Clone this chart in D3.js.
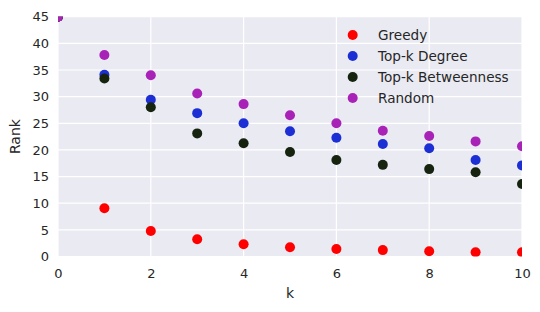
<!DOCTYPE html>
<html><head><meta charset="utf-8">
<script src="https://cdn.jsdelivr.net/npm/d3@7"></script>
<style>body{margin:0;background:#fff;}text{font-family:"DejaVu Sans",sans-serif;}</style>
</head><body><svg id="c" width="540" height="312"></svg>
<script>
const ks = [0,1,2,3,4,5,6,7,8,9,10];
const greedy = [45,9.06,4.8,3.25,2.3,1.75,1.4,1.2,1.0,0.8,0.8];
const topDegree = [45,34.1,29.4,26.9,25.0,23.5,22.3,21.1,20.3,18.1,17.1];
const topBetweenness = [45,33.4,28.0,23.1,21.25,19.6,18.1,17.2,16.4,15.8,13.6];
const random = [45,37.8,34.0,30.6,28.6,26.5,25.0,23.6,22.6,21.6,20.7];
const seriesNames = ["Greedy","Top-k Degree","Top-k Betweenness","Random"];
const seriesColors = ["#ff0000","#1c2fd4","#16240f","#a822b8"];
const xTicks = [0,2,4,6,8,10];
const yTicks = [0,5,10,15,20,25,30,35,40,45];

const series = [greedy, topDegree, topBetweenness, random];
const svg = d3.select("#c");
const L=58, R=522, T=16.7, B=256.5;
const x = d3.scaleLinear().domain([0,10]).range([L,R]);
const y = d3.scaleLinear().domain([0,45]).range([B,T]);

svg.append("rect").attr("x",L).attr("y",T).attr("width",R-L).attr("height",B-T).attr("fill","#eaeaf2");
svg.append("defs").append("clipPath").attr("id","clip").append("rect").attr("x",L).attr("y",T).attr("width",R-L).attr("height",B-T);

const g = svg.append("g");
g.selectAll(".vg").data(xTicks).join("line").attr("x1",d=>x(d)).attr("x2",d=>x(d)).attr("y1",T).attr("y2",B).attr("stroke","#fff").attr("stroke-width",1.2);
g.selectAll(".hg").data(yTicks).join("line").attr("y1",d=>y(d)).attr("y2",d=>y(d)).attr("x1",L).attr("x2",R).attr("stroke","#fff").attr("stroke-width",1.2);

const xAxis = d3.axisBottom(x).tickValues(xTicks).tickSize(0).tickPadding(12);
const yAxis = d3.axisLeft(y).tickValues(yTicks).tickSize(0).tickPadding(9);
const xa = svg.append("g").attr("transform",`translate(0,${B})`).call(xAxis);
const ya = svg.append("g").attr("transform",`translate(${L},0)`).call(yAxis);
[xa,ya].forEach(a=>{a.select(".domain").remove();a.selectAll("text").attr("font-size",13).attr("fill","#262626").attr("font-family","DejaVu Sans");});

svg.append("text").attr("x",(L+R)/2).attr("y",298).attr("text-anchor","middle").attr("font-size",14).attr("fill","#262626").text("k");
svg.append("text").attr("transform",`translate(20,${(T+B)/2}) rotate(-90)`).attr("text-anchor","middle").attr("font-size",14).attr("fill","#262626").text("Rank");

const pts = svg.append("g").attr("clip-path","url(#clip)");
series.forEach((s,i)=>{
  pts.selectAll(null).data(ks.map((k,j)=>[k,s[j]])).join("circle")
    .attr("cx",d=>x(d[0])).attr("cy",d=>y(d[1])).attr("r",5).attr("fill",seriesColors[i]);
});

const lg = svg.append("g");
seriesNames.forEach((n,i)=>{
  const yy = 35 + i*21;
  lg.append("circle").attr("cx",352.7).attr("cy",yy).attr("r",5).attr("fill",seriesColors[i]);
  lg.append("text").attr("x",378).attr("y",yy).attr("dy","0.35em").attr("font-size",13.6).attr("fill","#262626").text(n);
});
</script></body></html>
